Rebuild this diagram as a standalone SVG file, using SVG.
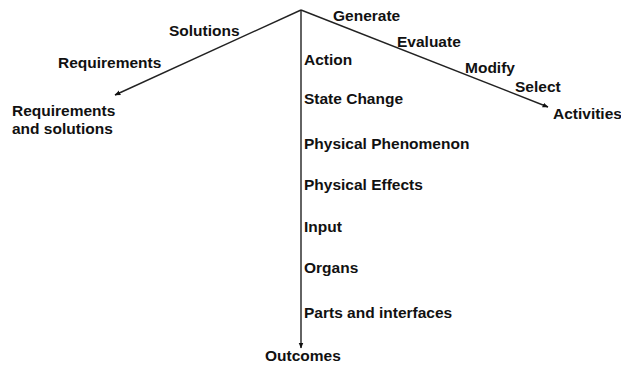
<svg xmlns="http://www.w3.org/2000/svg" width="621" height="368" viewBox="0 0 621 368">
<style>
text{font-family:"Liberation Sans",Arial,sans-serif;font-size:15.5px;font-weight:bold;fill:#111}
.ln{stroke:#222;stroke-width:1.4;fill:none}
</style>
<defs>
<marker id="ah" viewBox="0 0 10 10" refX="9" refY="5" markerWidth="6" markerHeight="6" orient="auto" markerUnits="userSpaceOnUse">
<path d="M0,1 L10,5 L0,9 z" fill="#111"/>
</marker>
</defs>
<rect width="621" height="368" fill="#fff"/>
<g id="connectors">
<line class="ln" x1="301" y1="10" x2="115" y2="95" marker-end="url(#ah)"/>
<line class="ln" x1="301" y1="10" x2="548" y2="107" marker-end="url(#ah)"/>
<line class="ln" x1="301" y1="10" x2="301" y2="348" marker-end="url(#ah)"/>
</g>
<g id="left-labels">
<text x="169" y="36">Solutions</text>
<text x="58" y="68">Requirements</text>
</g>
<g id="node-requirements">
<text x="12" y="116">Requirements</text>
<text x="12" y="134">and solutions</text>
</g>
<g id="right-labels">
<text x="333" y="21">Generate</text>
<text x="397" y="47">Evaluate</text>
<text x="465" y="73">Modify</text>
<text x="515" y="92">Select</text>
</g>
<g id="node-activities">
<text x="553" y="119">Activities</text>
</g>
<g id="vertical-labels">
<text x="304" y="65">Action</text>
<text x="304" y="104">State Change</text>
<text x="304" y="149">Physical Phenomenon</text>
<text x="304" y="190">Physical Effects</text>
<text x="304" y="232">Input</text>
<text x="304" y="273">Organs</text>
<text x="304" y="318">Parts and interfaces</text>
</g>
<g id="node-outcomes">
<text x="265" y="361">Outcomes</text>
</g>
</svg>
